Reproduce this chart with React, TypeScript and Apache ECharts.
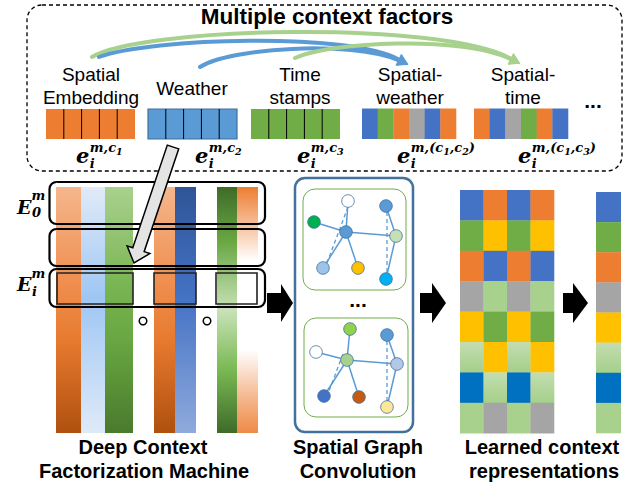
import React, { useEffect, useRef } from 'react';
import * as echarts from 'echarts';

// ---------- content ----------
const TITLE = 'Multiple context factors';
const factorLabels = [['Spatial', 'Embedding'], ['Weather'], ['Time', 'stamps'], ['Spatial-', 'weather'], ['Spatial-', 'time']];
const singleFactorColors = ['orange', 'sky', 'green'];
const SEGMENTS = 5;
const crossFactorCells = [
  ['blue', 'green', 'orange', 'gray', 'blue', 'orange'],
  ['orange', 'blue', 'gray', 'green', 'orange', 'blue'],
];
// each label: base letter, subscript, superscript parts [text, level] (level 1 = subscript inside superscript)
const embeddingLabels = [
  { base: 'e', sub: 'i', sup: [['m,c', 0], ['1', 1]] },
  { base: 'e', sub: 'i', sup: [['m,c', 0], ['2', 1]] },
  { base: 'e', sub: 'i', sup: [['m,c', 0], ['3', 1]] },
  { base: 'e', sub: 'i', sup: [['m,(c', 0], ['1', 1], [',c', 0], ['2', 1], [')', 0]] },
  { base: 'e', sub: 'i', sup: [['m,(c', 0], ['1', 1], [',c', 0], ['3', 1], [')', 0]] },
];
const layerLabels = [
  { base: 'E', sub: '0', sup: [['m', 0]] },
  { base: 'E', sub: 'i', sup: [['m', 0]] },
];
const dcfmColumns = ['orangeV', 'skyV', 'greenV', 'orangeV', 'blueV', 'greenMid', 'orangeFade'];
const graphNodeColors = [
  ['white', 'dgreen', 'sky', 'sky', 'pgreen', 'lsky', 'yellow', 'cyan'],
  ['lime', 'white', 'ltgreen', 'sky', 'lblue', 'blue', 'rust', 'lyellow'],
];
// node indices: 0 top, 1 left, 2 center, 3 right-top, 4 right-mid, 5 bottom-left, 6 bottom-mid, 7 bottom-right
const graphEdges = [[0, 2], [1, 2], [2, 4], [2, 5], [2, 6], [3, 4], [4, 7]];
const learnedGrid = [
  ['blue', 'orange', 'blue', 'orange'],
  ['green', 'yellow', 'green', 'yellow'],
  ['orange', 'blue', 'orange', 'blue'],
  ['gray', 'ltgreen', 'gray', 'ltgreen'],
  ['yellow', 'green', 'yellow', 'green'],
  ['ltgrad', 'yellow', 'ltgrad', 'yellow'],
  ['dkblue', 'ltgrad', 'dkblue', 'ltgrad'],
  ['ltgreen', 'gray', 'ltgreen', 'gray'],
];
const finalColumn = ['blue', 'green', 'orange', 'gray', 'yellow', 'ltgrad', 'dkblue', 'ltgreen'];
const bottomLabels = [['Deep Context', 'Factorization Machine'], ['Spatial Graph', 'Convolution'], ['Learned context', 'representations']];

// ---------- styles ----------
const C: Record<string, string> = {
  orange: '#ED7D31', sky: '#5B9BD5', green: '#70AD47', blue: '#4472C4', gray: '#A5A5A5',
  yellow: '#FFC000', ltgreen: '#A9D18E', dkblue: '#0070C0', white: '#FFFFFF', dgreen: '#00B050',
  pgreen: '#C5E0B4', lsky: '#9DC3E6', cyan: '#00B0F0', lime: '#92D050', lblue: '#B4C7E7',
  rust: '#C55A11', lyellow: '#FFE699',
};
const vgrad = (stops: [number, string][]) =>
  new echarts.graphic.LinearGradient(0, 0, 0, 1, stops.map(([offset, color]) => ({ offset, color })));
const gradients: Record<string, () => any> = {
  orangeV: () => vgrad([[0, '#F5B68C'], [0.4, '#EF8D4D'], [0.62, '#E77B2F'], [1, '#B0500F']]),
  skyV: () => vgrad([[0, '#E1EBF8'], [0.45, '#9FC6F3'], [1, '#DFEAF8']]),
  greenV: () => vgrad([[0, '#A9D18E'], [0.4, '#79B552'], [0.62, '#69A742'], [1, '#4A7A2C']]),
  blueV: () => vgrad([[0, '#2F5597'], [0.45, '#4472C4'], [1, '#8FAADC']]),
  greenMid: () => vgrad([[0, '#3E6B29'], [0.22, '#69A742'], [0.5, '#C8E2B8'], [0.74, '#7BB954'], [1, '#3E6B29']]),
  orangeFade: () => vgrad([[0, '#ED7D31'], [0.3, '#FFFFFF'], [0.66, '#FFFFFF'], [0.86, '#F5B68C'], [1, '#EE8A46']]),
  ltgrad: () => vgrad([[0, '#C3DDB2'], [1, '#A5CF89']]),
};
const fillOf = (k: string) => (gradients[k] ? gradients[k]() : C[k]);

const SANS = '"Liberation Sans", Arial, sans-serif';
const SERIF = '"DejaVu Serif", "Liberation Serif", serif';

let _ctx: CanvasRenderingContext2D | null = null;
function measure(text: string, font: string) {
  if (!_ctx) _ctx = document.createElement('canvas').getContext('2d');
  _ctx!.font = font;
  return _ctx!.measureText(text).width;
}

function text(t: string, x: number, y: number, size: number, opts: any = {}) {
  return {
    type: 'text',
    style: {
      text: t, x, y,
      font: `${opts.style || 'normal'} ${opts.weight || 'normal'} ${size}px ${opts.family || SANS}`,
      fill: opts.fill || '#000',
      textAlign: opts.align || 'center',
      textVerticalAlign: 'middle',
    },
  };
}

function mathLabel(lbl: any, x: number, m: any) {
  const els: any[] = [];
  const fb = `italic bold ${m.base}px ${SERIF}`;
  els.push(text(lbl.base, x, m.bBase - 0.33 * m.base, m.base, { style: 'italic', weight: 'bold', family: SERIF, align: 'left' }));
  const wb = measure(lbl.base, fb);
  let sx = x + wb + m.supGap;
  lbl.sup.forEach(([t, lvl]: [string, number]) => {
    const sz = lvl ? m.supsub : m.sup;
    const bl = lvl ? m.bSupsub : m.bSup;
    els.push(text(t, sx, bl - 0.33 * sz, sz, { style: 'italic', weight: 'bold', family: SERIF, align: 'left' }));
    sx += measure(t, `italic bold ${sz}px ${SERIF}`);
  });
  els.push(text(lbl.sub, x + wb + m.subGap, m.bSub - 0.33 * m.sub, m.sub, { style: 'italic', weight: 'bold', family: SERIF, align: 'left' }));
  return els;
}

function blockArrow(x0: number, xh: number, xt: number, yc: number, sh: number, hh: number) {
  return {
    type: 'polygon',
    shape: { points: [[x0, yc - sh], [xh, yc - sh], [xh, yc - hh], [xt, yc], [xh, yc + hh], [xh, yc + sh], [x0, yc + sh]] },
    style: { fill: '#000' },
  };
}

function slantArrow(tail: number[], tip: number[], sh: number, hh: number, hl: number) {
  const dx = tip[0] - tail[0], dy = tip[1] - tail[1];
  const L = Math.hypot(dx, dy);
  const u = [dx / L, dy / L], n = [u[1], -u[0]];
  const be = [tip[0] - u[0] * hl, tip[1] - u[1] * hl];
  const p = (b: number[], s: number) => [b[0] + n[0] * s, b[1] + n[1] * s];
  return {
    type: 'polygon',
    shape: { points: [p(tail, -sh), p(tail, sh), p(be, sh), p(be, hh), tip, p(be, -hh), p(be, -sh)] },
    style: { fill: '#E4E4E4', stroke: '#000', lineWidth: 1.5, lineJoin: 'miter' },
  };
}

function arcArrow(c: number[], color: string) {
  const [x1, y1, cx1, cy1, cx2, cy2, x2, y2] = c;
  const dx = x2 - cx2, dy = y2 - cy2, L = Math.hypot(dx, dy);
  const u = [dx / L, dy / L], n = [u[1], -u[0]];
  const tip = [x2 + u[0] * 6, y2 + u[1] * 6];
  const b = [x2 - u[0] * 5, y2 - u[1] * 5];
  return [
    { type: 'bezierCurve', shape: { x1, y1, cpx1: cx1, cpy1: cy1, cpx2: cx2, cpy2: cy2, x2: b[0], y2: b[1] }, style: { stroke: color, lineWidth: 4, fill: null, lineCap: 'round' } },
    { type: 'polygon', shape: { points: [tip, [b[0] + n[0] * 6.5, b[1] + n[1] * 6.5], [b[0] - n[0] * 6.5, b[1] - n[1] * 6.5]] }, style: { fill: color } },
  ];
}

function buildGraphic() {
  const g: any[] = [];
  // dashed container
  g.push({ type: 'rect', shape: { x: 27, y: 5, width: 595, height: 166, r: 15 }, style: { fill: null, stroke: '#000', lineWidth: 1.3, lineDash: [4, 3] } });
  g.push(text(TITLE, 327, 16, 22.5, { weight: 'bold' }));

  // arcs
  const arcs: [number[], string][] = [
    [[92, 57, 140, 27, 440, 20, 515, 61], '#A9D18E'],
    [[99, 57, 150, 38, 350, 32, 403, 62], '#5B9BD5'],
    [[200, 67, 230, 48, 350, 40, 403, 62], '#5B9BD5'],
    [[295, 58, 330, 42, 460, 35, 515, 61], '#A9D18E'],
  ];
  arcs.forEach(([c, col]) => g.push(...arcArrow(c, col)));

  // factor labels
  const labelX = [91, 192, 300, 410, 523];
  factorLabels.forEach((lines, i) => {
    if (lines.length === 1) g.push(text(lines[0], labelX[i], 88.5, 19));
    else lines.forEach((l, j) => g.push(text(l, labelX[i], 74 + j * 23, 19)));
  });

  // single factor bars
  const barX = [46, 148, 251];
  singleFactorColors.forEach((col, i) => {
    const w = 89, sw = w / SEGMENTS;
    g.push({ type: 'rect', shape: { x: barX[i], y: 109, width: w, height: 30 }, style: { fill: C[col], stroke: col === 'sky' ? '#41719C' : null, lineWidth: 1.2 } });
    for (let s = 1; s < SEGMENTS; s++) {
      g.push({ type: 'line', shape: { x1: barX[i] + s * sw, y1: 109, x2: barX[i] + s * sw, y2: 139 }, style: { stroke: '#000', lineWidth: 1 } });
    }
  });
  // cross factor bars
  const crossX = [362, 474];
  crossFactorCells.forEach((cells, i) => {
    const cw = 94 / cells.length;
    cells.forEach((col, k) => g.push({ type: 'rect', shape: { x: crossX[i] + k * cw, y: 108.5, width: cw + 0.3, height: 30.5 }, style: { fill: C[col] } }));
  });
  g.push(text('...', 593, 100.5, 21, { weight: 'bold' }));

  // embedding math labels
  const eX = [76, 195, 297, 397, 518];
  const eMetrics = { base: 21, sup: 13, supsub: 9.5, sub: 13, bBase: 162, bSup: 151.5, bSupsub: 155, bSub: 168, supGap: 0.5, subGap: 0.5 };
  embeddingLabels.forEach((l, i) => g.push(...mathLabel(l, eX[i], eMetrics)));

  // DCFM columns
  const colX = [[56, 81], [81, 105], [105, 133], [154, 175], [175, 196], [217, 237], [237, 258]];
  dcfmColumns.forEach((k, i) => {
    g.push({ type: 'rect', shape: { x: colX[i][0], y: 187, width: colX[i][1] - colX[i][0], height: 246 }, style: { fill: fillOf(k) } });
  });
  // layer boxes
  const boxY = [[182, 224], [229, 266], [269, 307]];
  boxY.forEach(([a, b]) => g.push({ type: 'rect', shape: { x: 49.5, y: a, width: 215.5, height: b - a, r: 7 }, style: { fill: null, stroke: '#000', lineWidth: 2.2 } }));
  const innerX = [[57, 133], [154, 196], [216, 257]];
  innerX.forEach(([a, b]) => g.push({ type: 'rect', shape: { x: a, y: 273, width: b - a, height: 31 }, style: { fill: null, stroke: '#222', lineWidth: 1.6 } }));
  [143, 207].forEach((cx) => g.push({ type: 'circle', shape: { cx, cy: 321, r: 3.8 }, style: { fill: '#fff', stroke: '#000', lineWidth: 1.5 } }));
  const eLayerMetrics = [
    { base: 19, sup: 13, supsub: 10, sub: 13, bBase: 213, bSup: 200, bSupsub: 200, bSub: 217, supGap: 0, subGap: 0.5 },
    { base: 19, sup: 13, supsub: 10, sub: 13, bBase: 290, bSup: 278, bSupsub: 278, bSub: 296, supGap: 0, subGap: 0.5 },
  ];
  layerLabels.forEach((l, i) => g.push(...mathLabel(l, 17, eLayerMetrics[i])));

  // gray arrow from weather embedding to DCFM
  g.push(slantArrow([173, 147], [134, 263], 6, 12, 14));

  // black arrows
  g.push(blockArrow(267, 281, 293, 303, 10, 19));
  g.push(blockArrow(420, 432, 446, 303, 10, 20));
  g.push(blockArrow(563, 573, 588, 303, 10, 20));

  // spatial graph convolution
  g.push({ type: 'rect', shape: { x: 295, y: 178, width: 118, height: 254, r: 10 }, style: { fill: null, stroke: '#41719C', lineWidth: 2.5 } });
  const panels = [[303, 189, 103, 101], [304, 318, 104, 99]];
  panels.forEach(([x, y, w, h]) => g.push({ type: 'rect', shape: { x, y, width: w, height: h, r: 12 }, style: { fill: null, stroke: '#70AD47', lineWidth: 1 } }));
  g.push(text('...', 358, 299, 21, { weight: 'bold' }));
  const nodePos = [
    [[348, 201], [314, 222], [346, 232], [386, 206], [396, 236], [323, 268], [358, 268], [386, 279]],
    [[350, 329], [316, 352], [347, 360], [387, 335], [397, 364], [324, 396], [359, 397], [387, 407]],
  ];
  const dashed = [
    [[[348, 207], [327, 263]], [[387, 212], [387, 274]]],
    [[[343, 354], [329, 391]], [[387, 341], [387, 402]]],
  ];
  nodePos.forEach((pos, gi) => {
    graphEdges.forEach(([a, b]) => g.push({ type: 'line', shape: { x1: pos[a][0], y1: pos[a][1], x2: pos[b][0], y2: pos[b][1] }, style: { stroke: '#5B9BD5', lineWidth: 1.5 } }));
    dashed[gi].forEach(([p, q]) => g.push({ type: 'line', shape: { x1: p[0], y1: p[1], x2: q[0], y2: q[1] }, style: { stroke: '#5B9BD5', lineWidth: 1.3, lineDash: [4, 3] } }));
    pos.forEach((p, ni) => g.push({ type: 'circle', shape: { cx: p[0], cy: p[1], r: 6.3 }, style: { fill: C[graphNodeColors[gi][ni]], stroke: '#41719C', lineWidth: 0.8 } }));
  });

  // learned representations grid
  const gx = 460, gy = 190, cw = 23.5, ch = 30.4;
  learnedGrid.forEach((row, r) => row.forEach((k, c) => g.push({ type: 'rect', shape: { x: gx + c * cw, y: gy + r * ch, width: cw + 0.3, height: ch + 0.3 }, style: { fill: fillOf(k) } })));
  const fy = 192, fh = (433 - 192) / finalColumn.length;
  finalColumn.forEach((k, r) => g.push({ type: 'rect', shape: { x: 596, y: fy + r * fh, width: 25, height: fh + 0.3 }, style: { fill: fillOf(k) } }));

  // bottom labels
  const bx = [[143, 144], [358, 358], [542, 544]];
  bottomLabels.forEach((lines, i) => lines.forEach((l, j) => g.push(text(l, bx[i][j], 446.5 + j * 24, 20, { weight: 'bold' }))));
  return g;
}

export default function App() {
  const ref = useRef<HTMLDivElement>(null);
  useEffect(() => {
    if (!ref.current) return;
    const chart = echarts.init(ref.current, null, { renderer: 'svg' });
    chart.setOption({ animation: false, backgroundColor: '#fff', graphic: { elements: buildGraphic() } });
    return () => chart.dispose();
  }, []);
  return <div ref={ref} style={{ position: 'absolute', left: 0, top: 0, width: 641, height: 487 }} />;
}
